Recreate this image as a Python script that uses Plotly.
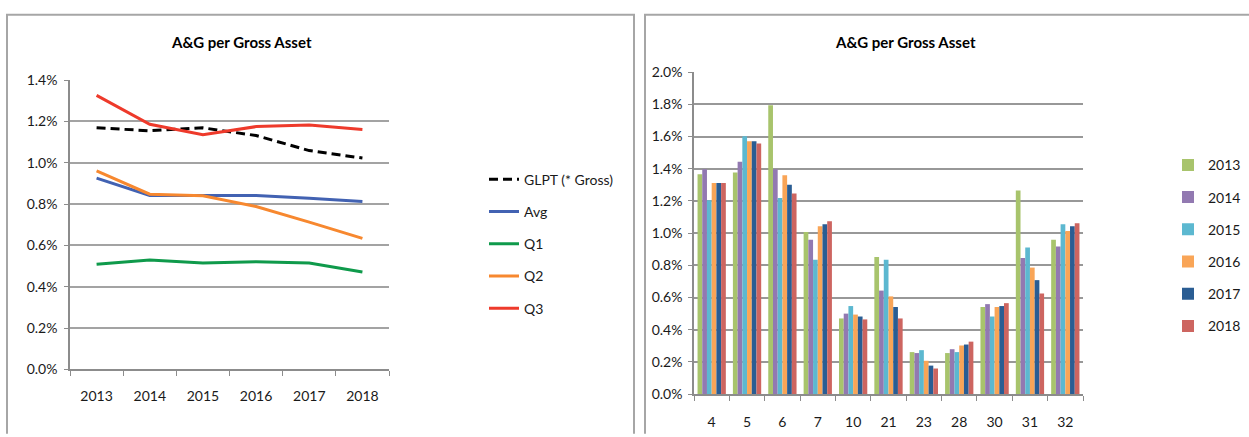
import plotly.graph_objects as go
from plotly.subplots import make_subplots

# ---- Left chart: A&G per gross asset, peer quartiles vs. GLPT (values in %) ----
years = ["2013", "2014", "2015", "2016", "2017", "2018"]
glpt = [1.169, 1.155, 1.169, 1.132, 1.059, 1.023]
avg = [0.926, 0.842, 0.842, 0.842, 0.828, 0.812]
q1 = [0.509, 0.530, 0.515, 0.521, 0.515, 0.471]
q2 = [0.961, 0.848, 0.840, 0.788, 0.713, 0.634]
q3 = [1.326, 1.186, 1.136, 1.175, 1.183, 1.161]

# ---- Right chart: A&G per gross asset by company, one bar per year (values in %) ----
companies = ["4", "5", "6", "7", "10", "21", "23", "28", "30", "31", "32"]
v2013 = [1.365, 1.377, 1.795, 1.007, 0.470, 0.852, 0.261, 0.255, 0.541, 1.264, 0.959]
v2014 = [1.397, 1.443, 1.397, 0.959, 0.500, 0.643, 0.255, 0.279, 0.559, 0.846, 0.917]
v2015 = [1.204, 1.602, 1.218, 0.834, 0.547, 0.834, 0.273, 0.261, 0.482, 0.911, 1.055]
v2016 = [1.311, 1.570, 1.359, 1.043, 0.494, 0.607, 0.207, 0.302, 0.541, 0.786, 1.013]
v2017 = [1.311, 1.570, 1.300, 1.055, 0.482, 0.541, 0.177, 0.308, 0.547, 0.708, 1.043]
v2018 = [1.311, 1.556, 1.246, 1.073, 0.464, 0.470, 0.159, 0.326, 0.565, 0.625, 1.061]

W, H = 1249, 437
FONT = "Lato, sans-serif"
GRID = "#989898"


def px_x(p):
    return p / W


def px_y(p):
    return 1 - p / H


fig = make_subplots(rows=1, cols=2)

line_series = [
    ("GLPT (* Gross)", glpt, "#000000", "9px,5px"),
    ("Avg", avg, "#4262B2", "solid"),
    ("Q1", q1, "#0F9A4B", "solid"),
    ("Q2", q2, "#F7882F", "solid"),
    ("Q3", q3, "#EE3A2B", "solid"),
]
for name, vals, color, dash in line_series:
    fig.add_trace(
        go.Scatter(
            x=years, y=vals, name=name, mode="lines",
            line=dict(color=color, width=3, dash=dash),
            legend="legend", legendgroup=name,
        ),
        row=1, col=1,
    )

bar_series = [
    ("2013", v2013, "#A8C46C"),
    ("2014", v2014, "#9279B1"),
    ("2015", v2015, "#5CB8D0"),
    ("2016", v2016, "#F9A557"),
    ("2017", v2017, "#2A5D93"),
    ("2018", v2018, "#CD6560"),
]
for name, vals, color in bar_series:
    fig.add_trace(
        go.Bar(
            x=companies, y=vals, name=name, marker=dict(color=color, line=dict(width=0)),
            legend="legend2", legendgroup=name,
        ),
        row=1, col=2,
    )

axis_common = dict(
    showline=True, linecolor="#8c8c8c", linewidth=1.5,
    ticks="outside", tickcolor="#8c8c8c", tickwidth=1,
    tickfont=dict(family=FONT, size=14, color="#1a1a1a"),
    zeroline=False,
)

fig.update_xaxes(
    domain=[px_x(70), px_x(389)], type="category", range=[-0.5, 5.5],
    tickson="boundaries", showgrid=False, ticklen=5, ticklabelstandoff=13,
    row=1, col=1, **axis_common,
)
fig.update_yaxes(
    domain=[px_y(375), px_y(74)], range=[0, 1.4], dtick=0.2,
    tickformat=".1f", ticksuffix="%", showgrid=True, gridcolor="#a3a3a3", gridwidth=1.5,
    ticklen=4, ticklabelstandoff=4, row=1, col=1, **axis_common,
)
fig.update_xaxes(
    domain=[px_x(694), px_x(1083)], type="category", range=[-0.5, 10.5],
    tickson="boundaries", showgrid=False, ticklen=5, ticklabelstandoff=14,
    row=1, col=2, **axis_common,
)
fig.update_yaxes(
    domain=[px_y(400.7), px_y(65.7)], range=[0, 2.0], dtick=0.2,
    tickformat=".1f", ticksuffix="%", showgrid=True, gridcolor=GRID, gridwidth=2,
    ticklen=4, ticklabelstandoff=3, row=1, col=2, **axis_common,
)

legend_common = dict(
    xanchor="left", yanchor="top", bgcolor="rgba(0,0,0,0)",
    font=dict(family=FONT, size=14, color="#1a1a1a"),
    tracegroupgap=11, borderwidth=0,
)

fig.update_layout(
    width=W, height=H,
    margin=dict(l=0, r=0, t=0, b=0),
    paper_bgcolor="white", plot_bgcolor="white",
    barmode="group", bargap=0.2, bargroupgap=0,
    showlegend=True,
    legend=dict(x=px_x(484), y=px_y(161), **legend_common),
    legend2=dict(x=px_x(1168), y=px_y(146), **legend_common),
    font=dict(family=FONT),
    shapes=[
        # panel frames
        dict(type="path", xref="paper", yref="paper",
             path=f"M {px_x(7)} {px_y(H + 5)} L {px_x(7)} {px_y(6)} L {px_x(634)} {px_y(6)} L {px_x(634)} {px_y(H + 5)}",
             line=dict(color="#a6a6a6", width=2)),
        dict(type="path", xref="paper", yref="paper",
             path=f"M {px_x(645)} {px_y(H + 5)} L {px_x(645)} {px_y(6)} L {px_x(W + 5)} {px_y(6)}",
             line=dict(color="#a6a6a6", width=2)),
    ],
    annotations=[
        dict(text="<b>A&G per Gross Asset</b>", xref="paper", yref="paper",
             x=px_x(241), y=px_y(34), showarrow=False, xanchor="center", yanchor="middle",
             font=dict(family=FONT, size=15, color="#000000")),
        dict(text="<b>A&G per Gross Asset</b>", xref="paper", yref="paper",
             x=px_x(905), y=px_y(34), showarrow=False, xanchor="center", yanchor="middle",
             font=dict(family=FONT, size=15, color="#000000")),
    ],
)

fig.write_html("out.html")
